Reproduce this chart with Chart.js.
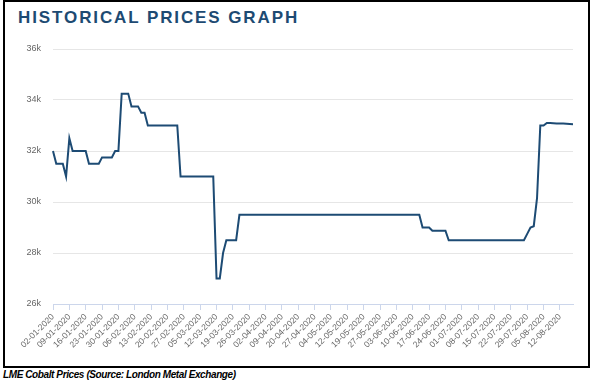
<!DOCTYPE html>
<html><head><meta charset="utf-8">
<script src="https://cdn.jsdelivr.net/npm/chart.js@4"></script>
<style>
html,body{margin:0;padding:0;background:#fff;width:597px;height:391px;overflow:hidden;}
#frame{position:absolute;left:3px;top:0px;width:583px;height:364px;border:2px solid #000;}
#title{position:absolute;left:18px;top:9px;font:bold 17px "Liberation Sans",Arial,sans-serif;letter-spacing:1.9px;color:#1d4a72;line-height:17px;white-space:nowrap;}
#wrap{position:absolute;left:5px;top:30px;width:584px;height:336px;}
#foot{position:absolute;left:3px;top:369.5px;font:italic bold 10px "Liberation Sans",Arial,sans-serif;letter-spacing:-0.4px;line-height:10px;color:#000;white-space:nowrap;}
</style></head><body>
<div id="frame"></div>
<div id="title">HISTORICAL PRICES GRAPH</div>
<div id="wrap"><canvas id="c" width="584" height="336"></canvas></div>
<div id="foot">LME Cobalt Prices (Source: London Metal Exchange)</div>
<script>
const categories = [
'02-01-2020','03-01-2020','06-01-2020','07-01-2020','08-01-2020','09-01-2020','10-01-2020','13-01-2020','14-01-2020','15-01-2020','16-01-2020','17-01-2020','20-01-2020','21-01-2020','22-01-2020','23-01-2020','24-01-2020','27-01-2020','28-01-2020','29-01-2020','30-01-2020','31-01-2020',
'03-02-2020','04-02-2020','05-02-2020','06-02-2020','07-02-2020','10-02-2020','11-02-2020','12-02-2020','13-02-2020','14-02-2020','17-02-2020','18-02-2020','19-02-2020','20-02-2020','21-02-2020','24-02-2020','25-02-2020','26-02-2020','27-02-2020','28-02-2020',
'02-03-2020','03-03-2020','04-03-2020','05-03-2020','06-03-2020','09-03-2020','10-03-2020','11-03-2020','12-03-2020','13-03-2020','16-03-2020','17-03-2020','18-03-2020','19-03-2020','20-03-2020','23-03-2020','24-03-2020','25-03-2020','26-03-2020','27-03-2020','30-03-2020','31-03-2020',
'01-04-2020','02-04-2020','03-04-2020','06-04-2020','07-04-2020','08-04-2020','09-04-2020','14-04-2020','15-04-2020','16-04-2020','17-04-2020','20-04-2020','21-04-2020','22-04-2020','23-04-2020','24-04-2020','27-04-2020','28-04-2020','29-04-2020','30-04-2020',
'01-05-2020','04-05-2020','05-05-2020','06-05-2020','07-05-2020','11-05-2020','12-05-2020','13-05-2020','14-05-2020','15-05-2020','18-05-2020','19-05-2020','20-05-2020','21-05-2020','22-05-2020','26-05-2020','27-05-2020','28-05-2020','29-05-2020',
'01-06-2020','02-06-2020','03-06-2020','04-06-2020','05-06-2020','08-06-2020','09-06-2020','10-06-2020','11-06-2020','12-06-2020','15-06-2020','16-06-2020','17-06-2020','18-06-2020','19-06-2020','22-06-2020','23-06-2020','24-06-2020','25-06-2020','26-06-2020','29-06-2020','30-06-2020',
'01-07-2020','02-07-2020','03-07-2020','06-07-2020','07-07-2020','08-07-2020','09-07-2020','10-07-2020','13-07-2020','14-07-2020','15-07-2020','16-07-2020','17-07-2020','20-07-2020','21-07-2020','22-07-2020','23-07-2020','24-07-2020','27-07-2020','28-07-2020','29-07-2020','30-07-2020','31-07-2020',
'03-08-2020','04-08-2020','05-08-2020','06-08-2020','07-08-2020','10-08-2020','11-08-2020','12-08-2020','13-08-2020','14-08-2020','17-08-2020','18-08-2020'
];
const prices = [
32000,31500,31500,31500,31000,32500,32000,32000,32000,32000,32000,31500,31500,31500,31500,31750,31750,31750,31750,32000,32000,34250,
34250,34250,33750,33750,33750,33500,33500,33000,33000,33000,33000,33000,33000,33000,33000,33000,33000,31000,31000,31000,
31000,31000,31000,31000,31000,31000,31000,31000,27000,27000,28000,28500,28500,28500,28500,29500,29500,29500,29500,29500,29500,29500,
29500,29500,29500,29500,29500,29500,29500,29500,29500,29500,29500,29500,29500,29500,29500,29500,29500,29500,29500,29500,
29500,29500,29500,29500,29500,29500,29500,29500,29500,29500,29500,29500,29500,29500,29500,29500,29500,29500,29500,
29500,29500,29500,29500,29500,29500,29500,29500,29500,29500,29000,29000,29000,28875,28875,28875,28875,28875,28500,28500,28500,28500,
28500,28500,28500,28500,28500,28500,28500,28500,28500,28500,28500,28500,28500,28500,28500,28500,28500,28500,28500,28500,28750,29000,29050,
30150,33000,33000,33100,33100,33090,33080,33080,33075,33070,33060,33050
];
const yTicks = ['26k','28k','30k','32k','34k','36k'];

new Chart(document.getElementById('c'), {
  type: 'line',
  data: { labels: categories, datasets: [{ data: prices, borderColor: '#1d4b74', borderWidth: 2, pointRadius: 0, tension: 0, fill: false }] },
  options: {
    responsive: false, animation: false,
    layout: { padding: { top: 19, right: 16, left: 0, bottom: 0 } },
    plugins: { legend: { display: false }, tooltip: { enabled: false } },
    scales: {
      x: {
        type: 'category', offset: false,
        grid: { drawOnChartArea: false, color: '#ccd6eb', tickColor: '#ccd6eb', tickLength: 6 },
        border: { color: '#ccd6eb', width: 1 },
        ticks: { autoSkip: false, maxRotation: 45, minRotation: 45, color: '#666', padding: 2,
          font: { family: '"Liberation Sans", Arial, sans-serif', size: 8.5 },
          callback: (v, i) => (i % 5 === 0 ? categories[i] : null) },
        afterFit: (s) => { s.height = 62; }
      },
      y: {
        min: 26000, max: 36000,
        grid: { color: '#e6e6e6', drawTicks: false },
        border: { display: false },
        ticks: { stepSize: 2000, padding: 12, color: '#666',
          font: { family: '"Liberation Sans", Arial, sans-serif', size: 9 },
          callback: (v) => yTicks[Math.round((v - 26000) / 2000)] },
        afterFit: (s) => { s.width = 48; }
      }
    }
  }
});
</script>
</body></html>
